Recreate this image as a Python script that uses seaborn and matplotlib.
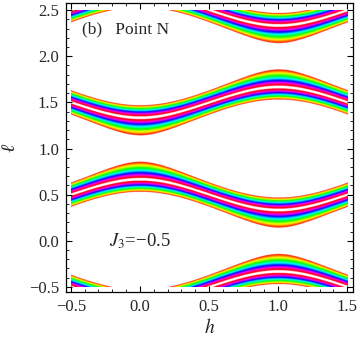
import numpy as np
import matplotlib
matplotlib.use("Agg")
import matplotlib.pyplot as plt
import seaborn as sns

# model parameters (panel b, point N)
J3 = -0.5
band_halfwidth = 0.4
hue_end = 0.82      # fraction of the half-width where the hue cycle finishes (red)
white_core = 0.9    # beyond this fraction the core is white (over range)

h_range = [-0.5, 1.5]
l_range = [-0.5, 2.5]
x_ticks = [-0.5, 0.0, 0.5, 1.0, 1.5]
x_ticklabels = ["\u22120.5", "0.0", "0.5", "1.0", "1.5"]
y_ticks = [-0.5, 0.0, 0.5, 1.0, 1.5, 2.0, 2.5]
y_ticklabels = ["\u22120.5", "0.0", "0.5", "1.0", "1.5", "2.0", "2.5"]

sns.set_theme(style="ticks")
plt.rcParams["font.family"] = ["Liberation Serif", "DejaVu Serif"]
plt.rcParams["mathtext.fontset"] = "stix"

h = np.linspace(h_range[0], h_range[1], 900)
l = np.linspace(l_range[0], l_range[1], 1300)
H, L = np.meshgrid(h, l)
g = np.cos(np.pi * L) - J3 * np.cos(np.pi * H)
d = 1 - np.abs(g) / band_halfwidth   # 0 at band edge, 1 at band centre

cmap = plt.get_cmap("hsv")
rgba = cmap(np.clip(d / hue_end, 0, 1))
rgba[d >= white_core] = [1, 1, 1, 1]
rgba[d < 0, 3] = 0

fig = plt.figure(figsize=(3.6, 3.43), dpi=100)
ax = fig.add_axes([0.183, 0.149, 0.798, 0.842])
ax.imshow(rgba, origin="lower", extent=[h_range[0], h_range[1], l_range[0], l_range[1]],
          aspect="auto", interpolation="bilinear")

ax.set_xlim(-0.536, 1.543)
ax.set_ylim(-0.554, 2.576)
ax.set_xticks(x_ticks)
ax.set_xticklabels(x_ticklabels)
ax.set_yticks(y_ticks)
ax.set_yticklabels(y_ticklabels)
ax.set_xticks(np.arange(-0.5, 1.51, 0.1), minor=True)
ax.set_yticks(np.arange(-0.5, 2.51, 0.1), minor=True)
ax.tick_params(which="both", direction="in", top=True, right=True, color="black", labelsize=12)
ax.tick_params(which="major", length=4, width=0.8, pad=5)
ax.tick_params(which="minor", length=2, width=0.6)
for s in ax.spines.values():
    s.set_color("black")
    s.set_linewidth(0.9)

ax.set_xlabel("$h$", fontsize=14, labelpad=2)
ax.set_ylabel("\u2113", fontsize=14, style="italic", labelpad=7)
ax.text(-0.42, 2.295, "(b)   Point N", fontsize=12.5, va="center", ha="left")
ax.text(0.0, 0.0, "$J_3$=\u22120.5", fontsize=13.5, va="center", ha="center")

fig.savefig("out.png", dpi=100, facecolor="white")
